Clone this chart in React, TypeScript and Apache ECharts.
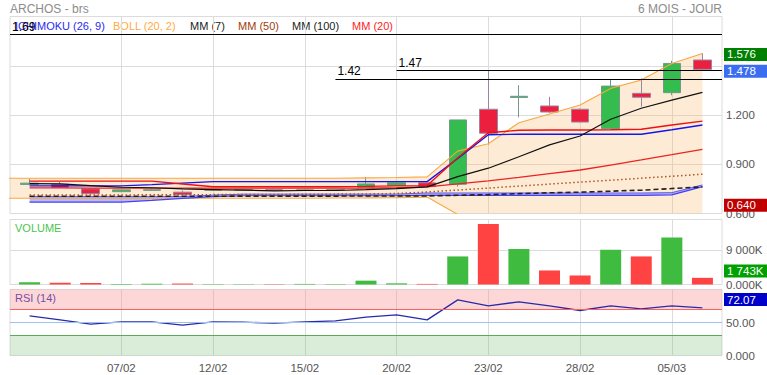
import React, { useEffect, useRef } from 'react';
import * as echarts from 'echarts';

// ---------- data ----------
const dates = ['02/02', '05/02', '06/02', '07/02', '08/02', '09/02', '12/02', '13/02', '14/02', '15/02', '16/02', '19/02', '20/02', '21/02', '22/02', '23/02', '26/02', '27/02', '28/02', '01/03', '02/03', '05/03', '06/03'];
const openP = [0.777, 0.778, 0.750, 0.733, 0.741, 0.730, 0.742, 0.743, 0.745, 0.741, 0.743, 0.760, 0.771, 0.787, 0.778, 1.235, 1.307, 1.255, 1.235, 1.117, 1.332, 1.336, 1.535];
const closeP = [0.785, 0.758, 0.721, 0.744, 0.745, 0.716, 0.745, 0.745, 0.741, 0.744, 0.745, 0.780, 0.787, 0.764, 1.170, 1.089, 1.314, 1.218, 1.157, 1.376, 1.308, 1.514, 1.478];
const lowP = [0.775, 0.756, 0.713, 0.731, 0.738, 0.714, 0.740, 0.740, 0.738, 0.739, 0.740, 0.758, 0.768, 0.760, 0.764, 1.020, 1.186, 1.212, 1.155, 1.115, 1.250, 1.320, 1.476];
const highP = [0.810, 0.794, 0.752, 0.746, 0.754, 0.740, 0.748, 0.750, 0.748, 0.747, 0.750, 0.822, 0.790, 0.790, 1.170, 1.470, 1.382, 1.311, 1.240, 1.413, 1.423, 1.530, 1.576];
const volumes = [600, 450, 400, 150, 200, 250, 100, 80, 80, 150, 100, 1000, 300, 150, 7340, 15815, 9262, 3670, 2360, 9087, 7340, 12320, 1743];
const rsi = [60.0, 54.0, 47.4, 51.0, 51.0, 45.9, 51.0, 50.5, 49.0, 51.0, 52.5, 58.1, 61.6, 54.0, 84.3, 75.2, 81.3, 75.2, 68.2, 75.2, 70.7, 75.2, 72.07];
const mm7 = [0.782, 0.780, 0.770, 0.760, 0.757, 0.750, 0.746, 0.742, 0.738, 0.740, 0.740, 0.745, 0.752, 0.762, 0.825, 0.876, 0.946, 1.018, 1.072, 1.174, 1.241, 1.291, 1.338];
const mm20 = [0.756, 0.756, 0.755, 0.755, 0.755, 0.754, 0.754, 0.754, 0.754, 0.754, 0.754, 0.755, 0.757, 0.762, 0.780, 0.799, 0.820, 0.843, 0.865, 0.895, 0.926, 0.958, 0.991];
const mm50 = [0.712, 0.712, 0.713, 0.713, 0.714, 0.714, 0.715, 0.715, 0.716, 0.717, 0.718, 0.719, 0.722, 0.731, 0.743, 0.755, 0.767, 0.779, 0.791, 0.803, 0.815, 0.827, 0.839];
const mm100 = [0.705, 0.705, 0.705, 0.705, 0.705, 0.705, 0.705, 0.706, 0.706, 0.706, 0.706, 0.707, 0.707, 0.707, 0.711, 0.715, 0.721, 0.726, 0.730, 0.736, 0.742, 0.752, 0.762];
// Bollinger values start one session before the first candle
const bollUpper = [0.815, 0.815, 0.815, 0.815, 0.815, 0.815, 0.815, 0.815, 0.815, 0.815, 0.815, 0.815, 0.817, 0.819, 0.823, 0.980, 1.025, 1.153, 1.206, 1.261, 1.362, 1.413, 1.514, 1.575];
const bollLower = [0.693, 0.693, 0.693, 0.693, 0.693, 0.693, 0.693, 0.693, 0.693, 0.693, 0.693, 0.694, 0.695, 0.697, 0.700, 0.594, 0.573, 0.490, 0.480, 0.470, 0.430, 0.440, 0.400, 0.410];
const tenkan = [0.797, 0.797, 0.797, 0.797, 0.797, 0.780, 0.763, 0.763, 0.763, 0.763, 0.763, 0.765, 0.768, 0.770, 0.940, 1.092, 1.107, 1.109, 1.109, 1.110, 1.113, 1.139, 1.163];
const kijun = [0.768, 0.768, 0.768, 0.768, 0.776, 0.785, 0.794, 0.794, 0.794, 0.794, 0.794, 0.794, 0.794, 0.794, 0.935, 1.080, 1.083, 1.083, 1.083, 1.083, 1.083, 1.110, 1.139];
const spanA = [0.703, 0.703, 0.703, 0.703, 0.703, 0.703, 0.712, 0.718, 0.718, 0.718, 0.718, 0.718, 0.718, 0.725, 0.725, 0.725, 0.725, 0.725, 0.725, 0.725, 0.725, 0.727, 0.774];
const spanB = [0.669, 0.669, 0.669, 0.669, 0.680, 0.692, 0.703, 0.708, 0.708, 0.708, 0.708, 0.708, 0.708, 0.711, 0.711, 0.711, 0.711, 0.711, 0.711, 0.711, 0.711, 0.713, 0.764];
const levelValues = [1.69, 1.42, 1.47];
const levelStartIdx = [null, 10, 12];
const dateTickIdx = [3, 6, 9, 12, 15, 18, 21];
const lastBollUpper = 1.576;
const lastClose = 1.478;
const lowMarker = 0.640;
const lastVolume = 1743;
const lastRsi = 72.07;

// ---------- style ----------
const FN = "'Liberation Sans',Arial,sans-serif";
const X_MIN = -0.64;
const X_MAX = 22.64;
const UP = '#35bc4e';
const DOWN = '#ec1f3f';
const GRID_C = '#dcdcdc';

function fmtK(v: number) {
  if (v === 0) return '0.000K';
  const th = Math.floor(v / 1000);
  const rest = String(Math.round(v % 1000)).padStart(3, '0');
  return (th > 0 ? th + ' ' + rest : String(v)) + 'K';
}

export default function App() {
  const ref = useRef<HTMLDivElement>(null);
  useEffect(() => {
    const chart = echarts.init(ref.current!, null, { renderer: 'svg' });
    const xy = (arr: number[]) => arr.map((v, i) => [i, v]);
    const bollX = bollUpper.map((_, k) => k - 1);

    const line = (name: string, data: number[][], color: string, width: number, type: any = 'solid', extra: any = {}) => ({
      type: 'line', name, xAxisIndex: 0, yAxisIndex: 0, data, symbol: 'none', silent: true,
      lineStyle: { color, width, type }, z: 3, ...extra,
    });

    const box = (coord: number[], text: string, color: string, dy: number) => ({
      coord, symbol: 'rect', symbolSize: [43, 13], symbolOffset: [23.5, dy],
      itemStyle: { color },
      label: { show: true, position: 'insideLeft', distance: 3, formatter: text, color: '#fff', fontSize: 11.5, fontFamily: FN },
    });

    const bandFill = (xs: number[], up: number[], lo: number[], fill: string) => ({
      type: 'custom', xAxisIndex: 0, yAxisIndex: 0, silent: true, clip: true, z: 1,
      data: xs.map((x, k) => [x, up[k], lo[k]]),
      encode: { x: 0, y: [1, 2] },
      renderItem: (params: any, api: any) => {
        if (params.dataIndex !== 0) return null;
        const top = xs.map((x, k) => api.coord([x, up[k]]));
        const bot = xs.map((x, k) => api.coord([x, lo[k]])).reverse();
        return { type: 'polygon', shape: { points: top.concat(bot) }, style: { fill } };
      },
    });

    const levelLines = levelValues.map((v, k) => [
      { coord: [levelStartIdx[k] == null ? X_MIN : levelStartIdx[k], v], label: { formatter: String(v) } },
      { coord: [X_MAX, v] },
    ]);

    const txt = (text: string, x: number, y: number, fill: string, size: number, align = 'left') => ({
      type: 'text', x, y, silent: true,
      style: { text, fill, font: `${size}px ${FN}`, textAlign: align, align, textVerticalAlign: 'middle', verticalAlign: 'middle' },
    });

    const option: any = {
      animation: false,
      backgroundColor: '#fff',
      textStyle: { fontFamily: FN },
      grid: [
        { left: 10, right: 45, top: 16.5, height: 197, show: true, borderColor: GRID_C, borderWidth: 1 },
        { left: 10, right: 45, top: 219.5, height: 65, show: true, borderColor: GRID_C, borderWidth: 1 },
        { left: 10, right: 45, top: 289.5, height: 66, show: true, borderColor: GRID_C, borderWidth: 1 },
      ],
      xAxis: [0, 1, 2].map((g) => ({
        type: 'value', gridIndex: g, min: X_MIN, max: X_MAX,
        axisLine: { show: false },
        axisTick: { show: false, customValues: dateTickIdx },
        splitLine: { show: true, lineStyle: { color: GRID_C, width: 1 } },
        axisLabel: g === 2
          ? { show: true, customValues: dateTickIdx, formatter: (v: number) => dates[v] ?? '', color: '#555', fontSize: 11.5, fontFamily: FN, margin: 6 }
          : { show: false },
      })),
      yAxis: [
        {
          type: 'value', gridIndex: 0, position: 'right', min: 0.6, max: 1.8, interval: 0.3,
          axisLine: { show: false }, axisTick: { show: false },
          splitLine: { show: true, lineStyle: { color: GRID_C } },
          axisLabel: {
            formatter: (v: number) => (Math.abs(v - 1.5) < 1e-6 ? '' : v.toFixed(3)),
            color: '#555', fontSize: 11.5, fontFamily: FN, margin: 4, showMaxLabel: false, padding: [0, 0, 4, 0],
          },
        },
        {
          type: 'value', gridIndex: 1, position: 'right', min: 0, max: 17000, interval: 9000,
          axisLine: { show: false }, axisTick: { show: false },
          splitLine: { show: true, lineStyle: { color: GRID_C } },
          axisLabel: { formatter: fmtK, color: '#555', fontSize: 11.5, fontFamily: FN, margin: 4, showMaxLabel: false, padding: [0, 0, 3, 0] },
        },
        {
          type: 'value', gridIndex: 2, position: 'right', min: 0, max: 100, interval: 50,
          axisLine: { show: false }, axisTick: { show: false },
          splitLine: { show: false },
          axisLabel: { formatter: (v: number) => (v === 0 ? '0.000' : v.toFixed(2)), color: '#555', fontSize: 11.5, fontFamily: FN, margin: 4, showMaxLabel: false, padding: [0, 0, 4, 0] },
        },
      ],
      series: [
        bandFill(bollX, bollUpper, bollLower, 'rgba(250,190,120,0.30)'),
        bandFill(dates.map((_, i) => i), spanA, spanB, 'rgba(110,100,215,0.45)'),
        {
          type: 'candlestick', name: 'ARCHOS', xAxisIndex: 0, yAxisIndex: 0, barWidth: 18, silent: true, z: 2,
          data: dates.map((_, i) => [i, openP[i], closeP[i], lowP[i], highP[i]]),
          itemStyle: { color: UP, color0: DOWN, borderColor: '#6f9a8c', borderColor0: '#9a86a4', borderWidth: 1 },
        },
        line('BOLL up', bollUpper.map((v, k) => [bollX[k], v]), '#f7a840', 1.1),
        line('BOLL low', bollLower.map((v, k) => [bollX[k], v]), '#f7a840', 1.1),
        line('Span A', xy(spanA), '#5a5aff', 1),
        line('Span B', xy(spanB), '#4040ff', 1.2),
        line('MM (100)', xy(mm100), '#222', 1.6, [5, 3]),
        line('MM (50)', xy(mm50), '#b0551c', 1.5, [1.5, 2.5]),
        line('MM (20)', xy(mm20), '#ee2222', 1.3),
        line('Kijun', xy(kijun), '#1515ee', 1.4),
        line('Tenkan', xy(tenkan), '#ee1111', 1.4),
        line('MM (7)', xy(mm7), '#111', 1.2, 'solid', {
          markLine: {
            silent: true, symbol: ['none', 'none'], animation: false,
            lineStyle: { color: '#000', width: 1.2, type: 'solid' },
            label: { show: true, position: 'insideStartTop', distance: 2, color: '#000', fontSize: 12, fontFamily: FN },
            emphasis: { disabled: true },
            data: levelLines,
          },
          markPoint: {
            silent: true, animation: false,
            data: [
              box([X_MAX, lastBollUpper], lastBollUpper.toFixed(3), '#008000', 1.2),
              box([X_MAX, lastClose], lastClose.toFixed(3), '#3a6df0', 1.9),
              box([X_MAX, lowMarker], lowMarker.toFixed(3), '#c00000', -1.7),
            ],
          },
        }),
        {
          type: 'bar', name: 'VOLUME', xAxisIndex: 1, yAxisIndex: 1, barWidth: 21, silent: true,
          data: volumes.map((v, i) => ({ value: [i, v], itemStyle: { color: closeP[i] >= openP[i] ? '#3fbb3f' : '#ff4242' } })),
          markPoint: {
            silent: true, animation: false,
            data: [box([X_MAX, lastVolume], fmtK(lastVolume), '#00a000', -6.8)],
          },
        },
        {
          type: 'line', name: 'RSI (14)', xAxisIndex: 2, yAxisIndex: 2, symbol: 'none', silent: true,
          data: xy(rsi), lineStyle: { color: '#2a2aa8', width: 1.3 }, z: 3,
          markArea: {
            silent: true,
            data: [
              [{ yAxis: 70, itemStyle: { color: 'rgba(250,150,150,0.38)' } }, { yAxis: 100 }],
              [{ yAxis: 0, itemStyle: { color: 'rgba(120,190,120,0.28)' } }, { yAxis: 30 }],
            ],
          },
          markLine: {
            silent: true, symbol: ['none', 'none'], label: { show: false }, animation: false,
            emphasis: { disabled: true },
            data: [
              { yAxis: 70, lineStyle: { color: '#ff6060', width: 1.2, type: 'solid' } },
              { yAxis: 50, lineStyle: { color: '#9cc2f2', width: 1.2, type: 'solid' } },
              { yAxis: 30, lineStyle: { color: '#5aaa5a', width: 1.2, type: 'solid' } },
            ],
          },
          markPoint: {
            silent: true, animation: false,
            data: [box([X_MAX, lastRsi], lastRsi.toFixed(2), '#0000c8', -8.4)],
          },
        },
      ],
      graphic: [
        txt('ARCHOS - brs', 10, 9, '#8c8c8c', 12),
        txt('6 MOIS - JOUR', 722, 9, '#8c8c8c', 12, 'right'),
        txt('ICHIMOKU (26, 9)', 15, 26, '#2a2aee', 11),
        txt('BOLL (20, 2)', 113, 26, '#ffaa44', 11),
        txt('MM (7)', 190, 26, '#222', 11),
        txt('MM (50)', 238, 26, '#a0400a', 11),
        txt('MM (100)', 292, 26, '#222', 11),
        txt('MM (20)', 352, 26, '#ff2222', 11),
        txt('VOLUME', 15, 228, '#4cc44c', 11),
        txt('RSI (14)', 15, 298, '#2222aa', 11),
      ],
    };
    chart.setOption(option);
    return () => chart.dispose();
  }, []);
  return <div ref={ref} style={{ position: 'fixed', left: 0, top: 0, width: 767, height: 375, background: '#fff' }} />;
}
